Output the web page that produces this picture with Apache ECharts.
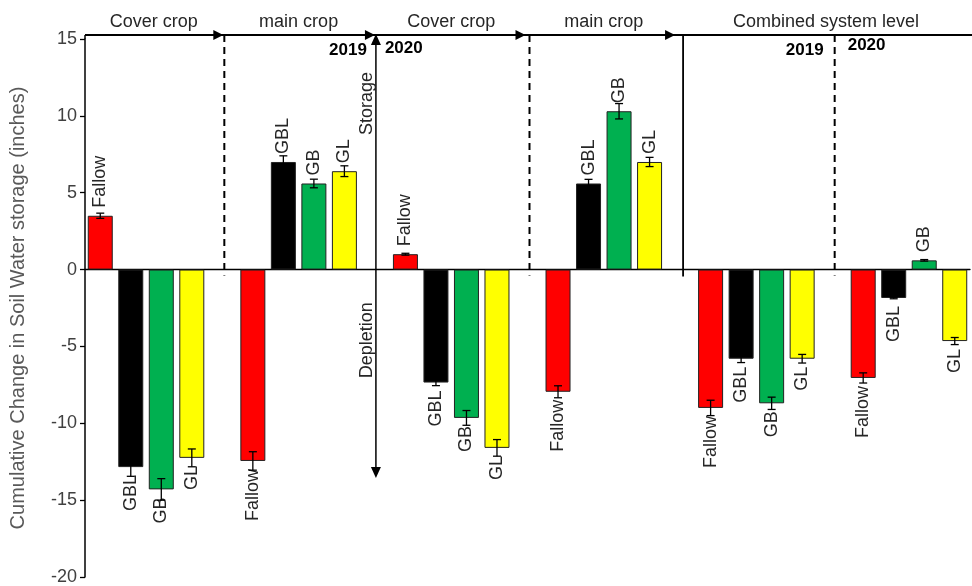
<!DOCTYPE html>
<html><head><meta charset="utf-8">
<script src="https://cdn.jsdelivr.net/npm/echarts@6/dist/echarts.min.js"></script>
<style>html,body{margin:0;padding:0;background:#fff}#c{width:972px;height:586px}</style>
</head><body><div id="c"></div>
<script>
// ---- data ----
const treatments = ['Fallow', 'GBL', 'GB', 'GL'];
const periods = ['Cover crop 2019', 'Main crop 2019', 'Cover crop 2020', 'Main crop 2020', 'Combined 2019', 'Combined 2020'];
const coverCrop2019    = [3.5, -12.85, -14.3, -12.25];
const coverCrop2019Err = [0.17, 0.6, 0.7, 0.58];
const mainCrop2019     = [-12.45, 7.0, 5.6, 6.4];
const mainCrop2019Err  = [0.6, 0.4, 0.28, 0.35];
const coverCrop2020    = [1.0, -7.35, -9.65, -11.6];
const coverCrop2020Err = [0.06, 0.2, 0.48, 0.54];
const mainCrop2020     = [-7.95, 5.6, 10.3, 7.0];
const mainCrop2020Err  = [0.39, 0.27, 0.5, 0.3];
const combined2019     = [-9.0, -5.8, -8.7, -5.8];
const combined2019Err  = [0.5, 0.25, 0.4, 0.28];
const combined2020     = [-7.05, -1.85, 0.6, -4.65];
const combined2020Err  = [0.33, 0.05, 0.05, 0.23];
const yTicks = [-20, -15, -10, -5, 0, 5, 10, 15];
const sectionTitles = ['Cover crop', 'main crop', 'Cover crop', 'main crop', 'Combined system level'];
const yAxisTitle = 'Cumulative Change in Soil Water storage (inches)';

// ---- styles ----
const treatmentColors = ['#FF0000', '#000000', '#00B050', '#FFFF00'];
const FONT = 'Liberation Sans, Arial, sans-serif';

// ---- build slots ----
const groupValues = [coverCrop2019, mainCrop2019, coverCrop2020, mainCrop2020, combined2019, combined2020];
const groupErrors = [coverCrop2019Err, mainCrop2019Err, coverCrop2020Err, mainCrop2020Err, combined2019Err, combined2020Err];
const categories = [], barData = [], errData = [], slotNames = [], gapNames = [];
groupValues.forEach((vals, g) => {
  vals.forEach((v, t) => {
    const idx = categories.length;
    categories.push(periods[g] + ' ' + treatments[t]);
    slotNames.push(treatments[t]);
    const pos = v >= 0;
    barData.push({
      value: v,
      itemStyle: { color: treatmentColors[t] },
      label: { position: pos ? 'top' : 'bottom', align: pos ? 'left' : 'right', verticalAlign: 'middle' }
    });
    const e = groupErrors[g][t];
    errData.push([idx, v - e, v + e]);
  });
  if (g < groupValues.length - 1) {
    const gname = 'gap' + g;
    categories.push(gname); gapNames.push(gname); slotNames.push('');
    barData.push('-');
  }
});

const chart = echarts.init(document.getElementById('c'), null, { renderer: 'canvas' });
const option = {
  animation: false,
  backgroundColor: '#fff',
  grid: { left: 85, right: 2, top: 39, bottom: 8, containLabel: false },
  xAxis: {
    type: 'category', data: categories,
    axisLine: { onZero: true, lineStyle: { color: '#000', width: 1.3 } },
    axisTick: { show: false }, axisLabel: { show: false }, splitLine: { show: false }
  },
  yAxis: {
    type: 'value', min: yTicks[0], max: yTicks[yTicks.length - 1], interval: 5,
    name: yAxisTitle, nameLocation: 'middle', nameGap: 57,
    nameTextStyle: { fontFamily: FONT, fontSize: 20, color: '#595959' },
    axisLine: { show: true, lineStyle: { color: '#000', width: 1.5 } },
    axisTick: { show: true, length: 5, lineStyle: { color: '#000', width: 1.3 } },
    axisLabel: { fontFamily: FONT, fontSize: 18, color: '#404040', margin: 8 },
    splitLine: { show: false }
  },
  series: [
    {
      type: 'bar', data: barData, barWidth: 25, barGap: '-100%',
      itemStyle: { borderColor: '#222', borderWidth: 1 },
      label: {
        show: true, rotate: 90, distance: 8,
        fontFamily: FONT, fontSize: 18, color: '#262626',
        formatter: p => slotNames[p.dataIndex]
      },
      z: 2
    },
    {
      type: 'custom', data: errData, z: 5,
      renderItem: (params, api) => {
        const x = api.value(0);
        const lo = api.coord([x, api.value(1)]);
        const hi = api.coord([x, api.value(2)]);
        const w = 4;
        const st = { stroke: '#000', lineWidth: 1.3 };
        return { type: 'group', children: [
          { type: 'line', shape: { x1: lo[0], y1: lo[1], x2: hi[0], y2: hi[1] }, style: st },
          { type: 'line', shape: { x1: lo[0] - w, y1: lo[1], x2: lo[0] + w, y2: lo[1] }, style: st },
          { type: 'line', shape: { x1: hi[0] - w, y1: hi[1], x2: hi[0] + w, y2: hi[1] }, style: st }
        ]};
      }
    }
  ]
};
chart.setOption(option);

// ---- annotations positioned through the axes ----
const px = name => chart.convertToPixel({ xAxisIndex: 0 }, name);
const py = v => chart.convertToPixel({ yAxisIndex: 0 }, v);
const band = px(categories[1]) - px(categories[0]);
const xLeft = px(categories[0]) - band / 2;
const xRight = 972;
const y15 = py(15), y0 = py(0);
const yTop = y15 - 4;
const gx = gapNames.map(px);
const g = [];
const lineStyle = { stroke: '#000', lineWidth: 1.8 };
// y axis extension up to the top line
g.push({ type: 'line', shape: { x1: xLeft, y1: yTop, x2: xLeft, y2: y15 }, style: { stroke: '#000', lineWidth: 1.5 }, z: 10 });
// top line
g.push({ type: 'line', shape: { x1: xLeft, y1: yTop, x2: xRight, y2: yTop }, style: lineStyle, z: 10 });
// arrowheads pointing right
const rightHead = (tx, ty) => ({ type: 'polygon', shape: { points: [[tx - 10, ty - 5], [tx, ty], [tx - 10, ty + 5]] }, style: { fill: '#000' }, z: 11 });
[gx[0] + 1, gx[1], gx[2] - 2, gx[3] - 5].forEach(x => g.push(rightHead(x, yTop)));
// dashed verticals
[0, 2, 4].forEach(i => {
  g.push({ type: 'line', shape: { x1: gx[i] + 2, y1: yTop, x2: gx[i] + 2, y2: y0 + 6 },
    style: { stroke: '#000', lineWidth: 2, lineDash: [7, 5] }, z: 10 });
});
// solid vertical at combined boundary
g.push({ type: 'line', shape: { x1: gx[3] + 3, y1: yTop, x2: gx[3] + 3, y2: y0 + 7 }, style: lineStyle, z: 10 });
// storage/depletion double arrow
const yBot = py(-13.5);
const xs = gx[1] + 1;
g.push({ type: 'line', shape: { x1: xs, y1: yTop + 4, x2: xs, y2: yBot - 4 }, style: { stroke: '#000', lineWidth: 1.5 }, z: 10 });
g.push({ type: 'polygon', shape: { points: [[xs - 5, yTop + 10], [xs, yTop - 1], [xs + 5, yTop + 10]] }, style: { fill: '#000' }, z: 11 });
g.push({ type: 'polygon', shape: { points: [[xs - 5, yBot - 10], [xs, yBot + 1], [xs + 5, yBot - 10]] }, style: { fill: '#000' }, z: 11 });
// section titles
const bounds = [xLeft, gx[0], gx[1], gx[2], gx[3], xRight];
sectionTitles.forEach((t, i) => {
  g.push({ type: 'text', x: (bounds[i] + bounds[i + 1]) / 2, y: yTop - 13,
    style: { text: t, font: '18px ' + FONT, fill: '#262626', align: 'center', verticalAlign: 'middle' }, z: 12 });
});
// year labels
const yearStyle = (t, align) => ({ text: t, font: 'bold 17px ' + FONT, fill: '#000', align: align, verticalAlign: 'middle' });
g.push({ type: 'text', x: gx[1] - 8, y: yTop + 15, style: yearStyle('2019', 'right'), z: 12 });
g.push({ type: 'text', x: gx[1] + 10, y: yTop + 13, style: yearStyle('2020', 'left'), z: 12 });
g.push({ type: 'text', x: gx[4] - 9, y: yTop + 15, style: yearStyle('2019', 'right'), z: 12 });
g.push({ type: 'text', x: gx[4] + 15, y: yTop + 10, style: yearStyle('2020', 'left'), z: 12 });
// Storage / Depletion
g.push({ type: 'text', x: xs - 9, y: py(10.8), rotation: Math.PI / 2,
  style: { text: 'Storage', font: '18px ' + FONT, fill: '#262626', align: 'center', verticalAlign: 'middle' }, z: 12 });
g.push({ type: 'text', x: xs - 9, y: py(-4.6), rotation: Math.PI / 2,
  style: { text: 'Depletion', font: '18px ' + FONT, fill: '#262626', align: 'center', verticalAlign: 'middle' }, z: 12 });
chart.setOption({ graphic: { elements: g } });
</script>
</body></html>
